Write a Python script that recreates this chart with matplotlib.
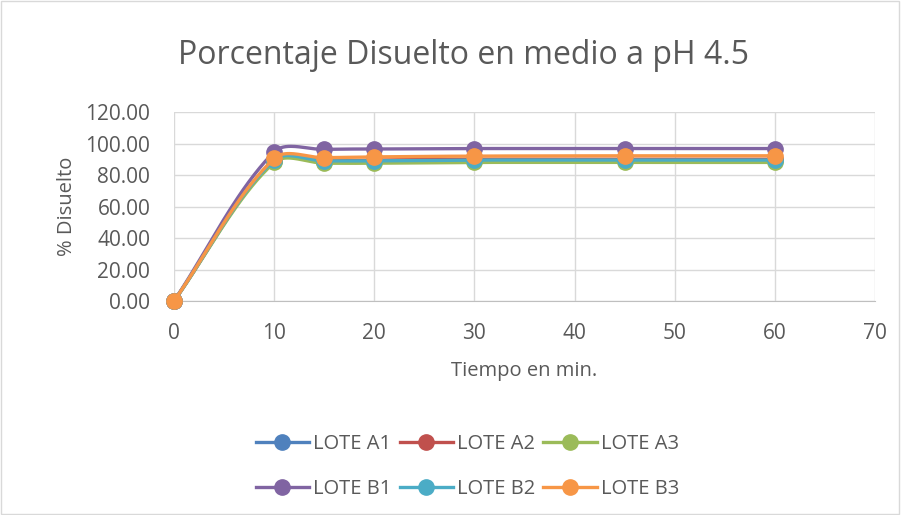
import numpy as np
import matplotlib
matplotlib.use("Agg")
import matplotlib.pyplot as plt
from matplotlib.lines import Line2D
from matplotlib.patches import Rectangle

plt.rcParams['font.family'] = ['Open Sans', 'DejaVu Sans']

# ── Data ──────────────────────────────────────────────────────────────────────
tiempo = [0, 10, 15, 20, 30, 45, 60]
lote_a1 = [0.00, 89.0, 88.5, 89.0, 89.5, 89.5, 89.5]
lote_a2 = [0.00, 89.5, 89.0, 89.5, 90.0, 90.0, 90.0]
lote_a3 = [0.00, 88.0, 87.5, 87.5, 88.0, 88.0, 88.0]
lote_b1 = [0.00, 94.7, 96.3, 96.5, 96.8, 96.8, 96.8]
lote_b2 = [0.00, 89.5, 89.0, 89.0, 89.5, 89.5, 89.5]
lote_b3 = [0.00, 90.5, 91.0, 91.5, 92.0, 92.2, 92.2]

labels = ["LOTE A1", "LOTE A2", "LOTE A3", "LOTE B1", "LOTE B2", "LOTE B3"]
series = [lote_a1, lote_a2, lote_a3, lote_b1, lote_b2, lote_b3]
colors = ["#4f81bd", "#c0504d", "#9bbb59", "#8064a2", "#4bacc6", "#f79646"]

XMAX, YMAX = 70, 120
PX_W, PX_H = 701, 189   # plot area size in pixels, for screen-space smoothing


# Excel-like smoothed line: cubic Bezier, tangents scaled by segment lengths
def smooth(x, y, n=40):
    p = np.column_stack([np.asarray(x, float) / XMAX * PX_W,
                         np.asarray(y, float) / YMAX * PX_H])
    m = len(p)
    d = np.linalg.norm(np.diff(p, axis=0), axis=1)
    t = np.linspace(0, 1, n)[:, None]
    out = []
    for i in range(m - 1):
        p0, p3 = p[i], p[i + 1]
        if i > 0:
            c1 = p0 + (p[i + 1] - p[i - 1]) * d[i] / (d[i - 1] + d[i]) / 3
        else:
            c1 = p0 + (p3 - p0) / 3
        if i + 2 < m:
            c2 = p3 - (p[i + 2] - p[i]) * d[i] / (d[i] + d[i + 1]) / 3
        else:
            c2 = p3 - (p3 - p0) / 3
        b = (1 - t) ** 3 * p0 + 3 * (1 - t) ** 2 * t * c1 \
            + 3 * (1 - t) * t ** 2 * c2 + t ** 3 * p3
        out.append(b)
    b = np.vstack(out)
    return b[:, 0] / PX_W * XMAX, b[:, 1] / PX_H * YMAX


fig = plt.figure(figsize=(9.01, 5.15), dpi=100)
fig.patches.append(Rectangle((0.001, 0.001), 0.997, 0.997, transform=fig.transFigure,
                             fill=False, edgecolor="#d9d9d9", linewidth=1))
ax = fig.add_axes([0.1931, 0.4155, 0.778, 0.367])

gray = "#595959"
for y, c in zip(series, colors):
    sx, sy = smooth(tiempo, y)
    ax.plot(sx, sy, color=c, linewidth=2.4, solid_capstyle="round", zorder=3)
    ax.plot(tiempo, y, linestyle="none", marker="o", markersize=11,
            color=c, zorder=3, clip_on=False)

ax.set_xlim(0, XMAX)
ax.set_ylim(0, YMAX)
ax.set_xticks(range(0, 71, 10))
ax.set_yticks(range(0, 121, 20))
ax.set_yticklabels([f"{v:.2f}" for v in range(0, 121, 20)])
ax.grid(True, color="#d9d9d9", linewidth=1)
ax.set_axisbelow(True)
for s in ["top", "right", "left"]:
    ax.spines[s].set_visible(False)
ax.spines["bottom"].set_color("#bfbfbf")
ax.tick_params(length=0, labelsize=15, colors=gray)
ax.tick_params(axis="y", pad=17)
ax.tick_params(axis="x", pad=16)
ax.set_xlabel("Tiempo en min.", fontsize=14.5, color=gray, labelpad=12)
ax.set_ylabel("% Disuelto", fontsize=14.5, color=gray, labelpad=6)

fig.text(0.514, 0.893, "Porcentaje Disuelto en medio a pH 4.5", ha="center",
         va="center", fontsize=23, color=gray)

handles = [Line2D([], [], color=c, linewidth=2.4, marker="o", markersize=11)
           for c in colors]
# legend fills column-wise, so reorder for row-wise reading
order = [0, 3, 1, 4, 2, 5]
fig.legend([handles[i] for i in order], [labels[i] for i in order],
           loc="center", bbox_to_anchor=(467.5 / 901, 1 - 466.5 / 515),
           ncol=3, frameon=False, fontsize=14.5, handlelength=2.66,
           handletextpad=0.2, columnspacing=0.4, labelspacing=1.25,
           labelcolor=gray)

fig.savefig("out.png", dpi=100)
